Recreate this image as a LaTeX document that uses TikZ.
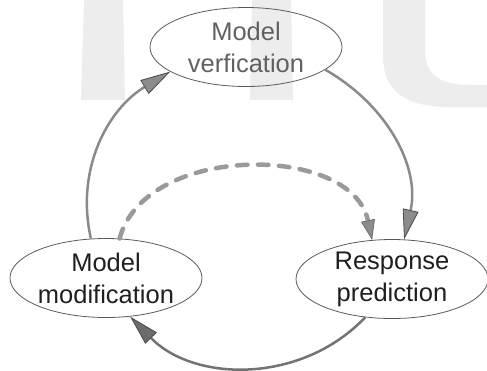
\documentclass[tikz,border=0pt]{standalone}
\usepackage{fontspec}
\setmainfont{Liberation Sans}
\usetikzlibrary{arrows.meta,shapes.geometric}

\definecolor{wmark}{HTML}{EDEDED}
\definecolor{rim}{HTML}{5A5A5A}
\definecolor{flow}{HTML}{8A8A8A}
\definecolor{flowdark}{HTML}{737373}
\definecolor{dashgray}{HTML}{9A9A9A}
\definecolor{tipfill}{HTML}{8C8C8C}
\definecolor{tipfilldark}{HTML}{6C6C6C}
\definecolor{tipedge}{HTML}{4A4A4A}

\tikzset{
  stage/.style={draw=rim, line width=0.8bp, ellipse,
    minimum width=192bp, minimum height=79bp,
    inner xsep=-2bp, inner ysep=0pt, align=center,
    font=\fontsize{25.5bp}{32bp}\selectfont},
  bigtip/.style={-{Triangle[length=30bp,width=16bp,color=tipedge,fill=#1,line width=0.8bp]}},
  bigtip/.default=tipfill,
  smalltip/.style={-{Triangle[length=20bp,width=14bp,color=tipedge!60!tipfill,fill=tipfill,line width=0.6bp]}},
  cycleflow/.style={bigtip, draw=flow, line width=2.5bp},
  shortcut/.style={smalltip, draw=dashgray, line width=4.5bp, line cap=round,
    dash pattern=on 10.5bp off 10.5bp},
}

\begin{document}
\begin{tikzpicture}[x=1bp,y=1bp]
  \useasboundingbox (0,0) rectangle (487,-370);

  % faint background lettering
  \fill[wmark] (84,0) -- (123,0) -- (125,-100) -- (81,-100) -- cycle;
  \fill[wmark] (252,0) -- (291,0) -- (293,-100) -- (250,-100) -- cycle;
  \fill[wmark] (383,0) -- (383,-55) .. controls (383,-95) and (410,-107) .. (450,-107)
    -- (487,-107) -- (487,-85) -- (470,-85)
    .. controls (440,-85) and (425,-75) .. (425,-50) -- (425,0) -- cycle;

  % the three stages
  \node[stage, text=black!62] (mv) at (246,-47) {Model\\verfication};
  \node[stage, text=black!88] (mm) at (106,-278) {Model\\modification};
  \node[stage, text=black!88] (rp) at (392,-279) {Response\\prediction};

  % the main cycle
  \draw[cycleflow] (mm.111) to[out=102.6, in=211] (mv.198);
  \draw[cycleflow] (mv.344) to[out=-29.8, in=77.4] (rp.73);
  \draw[cycleflow, draw=flowdark, bigtip=tipfilldark] (rp.235) to[out=-133.5, in=-45.7] (mm.302);

  % shortcut from modification straight to prediction
  \draw[shortcut] (mm.71) to[out=75, in=102] (rp.117);
\end{tikzpicture}
\end{document}
